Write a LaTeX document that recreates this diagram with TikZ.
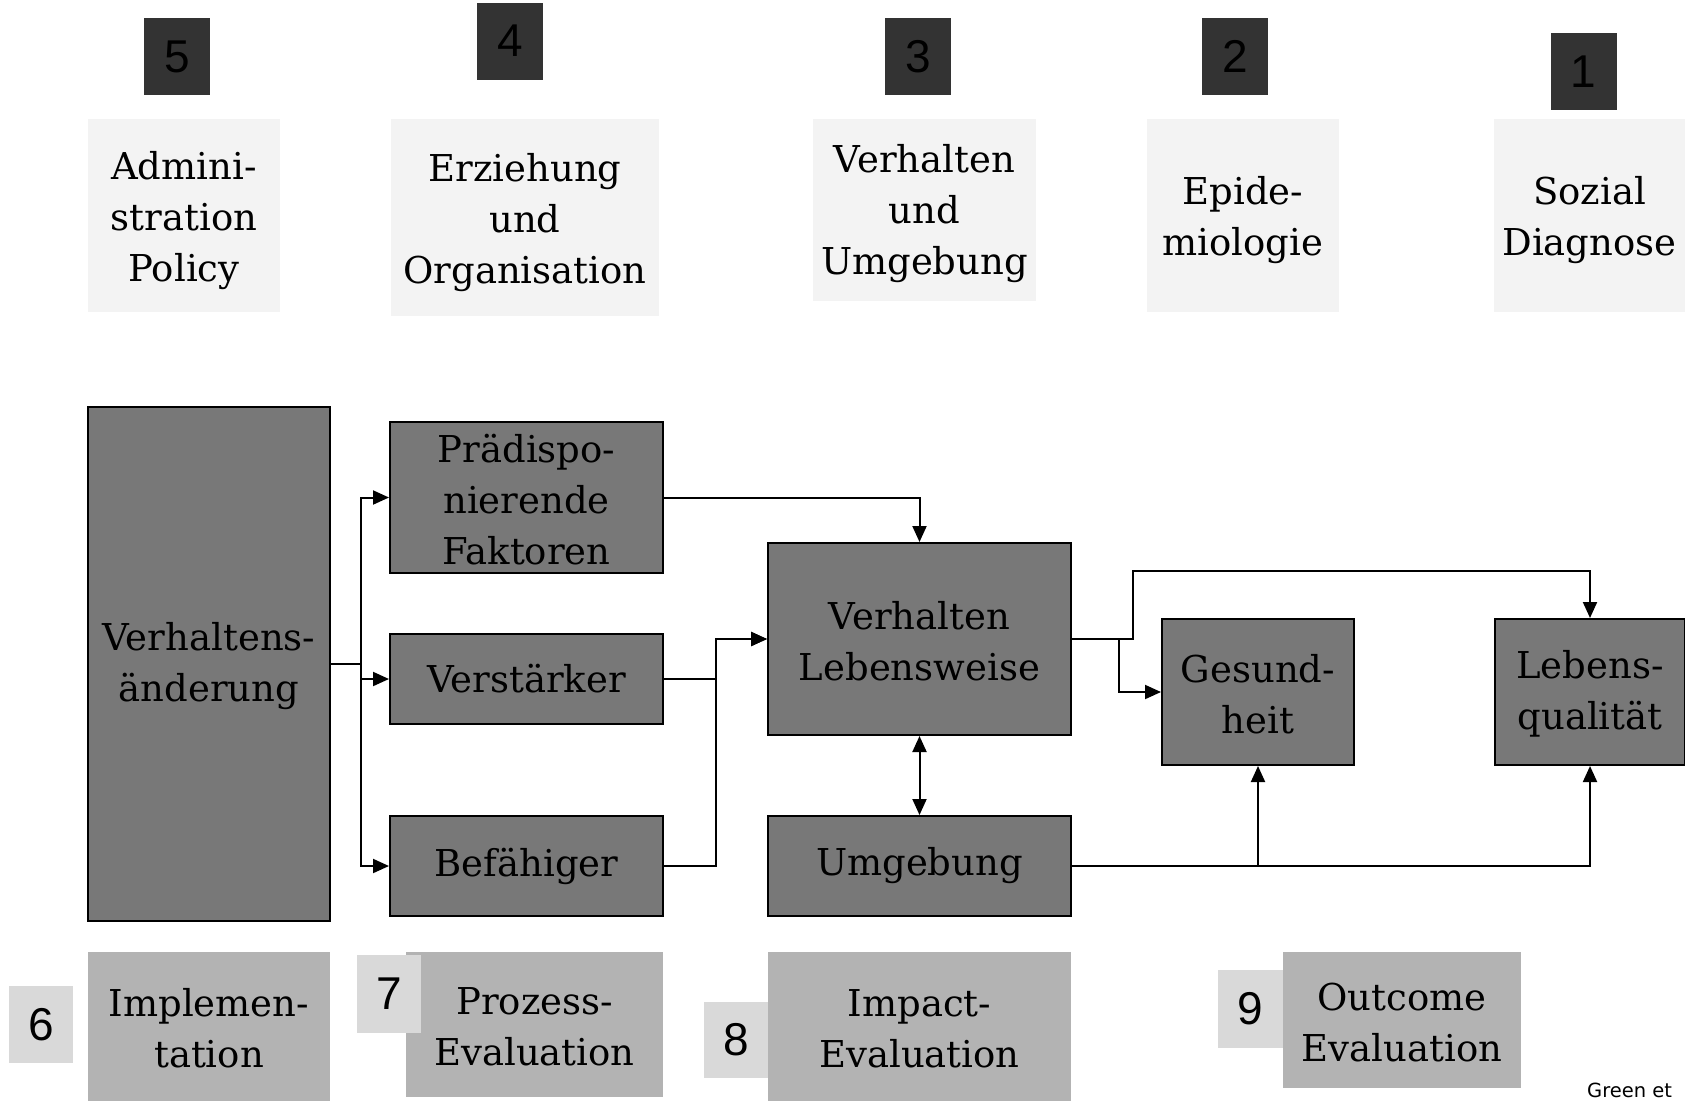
\documentclass[tikz,border=0pt]{standalone}
\usepackage{fontspec}
\setmainfont{DejaVu Serif}
\newfontfamily\numfont{Liberation Sans}
\newfontfamily\notefont{DejaVu Sans}
\usetikzlibrary{arrows.meta}
\newcommand{\upstrut}[1]{\rule{0pt}{#1pt}}
\definecolor{numdark}{HTML}{333333}
\definecolor{toplight}{HTML}{F3F3F3}
\definecolor{midgray}{HTML}{787878}
\definecolor{botgray}{HTML}{B3B3B3}
\definecolor{numlight}{HTML}{D9D9D9}
\tikzset{
  txt/.style={font=\fontsize{37}{51}\selectfont, align=center, inner sep=0pt, text=black},
  topbox/.style={txt, fill=toplight},
  midbox/.style={txt, fill=midgray, draw=black, line width=2pt},
  botbox/.style={txt, fill=botgray},
  numd/.style={fill=numdark, inner sep=0pt, font=\numfont\fontsize{46}{50}\selectfont, text=black, minimum width=66pt, minimum height=77pt},
  numl/.style={fill=numlight, inner sep=0pt, font=\numfont\fontsize{46}{50}\selectfont, text=black, minimum width=64pt, minimum height=77pt},
  conn/.style={line width=2pt, -{Triangle[length=16pt,width=14pt]}},
  dconn/.style={line width=2pt, {Triangle[length=16pt,width=14pt]}-{Triangle[length=16pt,width=14pt]}}
}
\begin{document}
\begin{tikzpicture}[x=1pt,y=-1pt]
\useasboundingbox (0,0) rectangle (1685,1101);
% top numbers
\node[numd] (n5) at (177,56.5) {5};
\node[numd] (n4) at (510,41) {4};
\node[numd] (n3) at (918,56.5) {3};
\node[numd] (n2) at (1235,56.5) {2};
\node[numd] (n1) at (1583.5,71.5) {1};
% top boxes
\node[topbox, minimum width=192pt, minimum height=193pt] (t5) at (184,215.5) {\upstrut{38}Admini-\\stration\\Policy};
\node[topbox, minimum width=268pt, minimum height=197pt] (t4) at (525,217.5) {\upstrut{38}Erziehung\\und\\Organisation};
\node[topbox, minimum width=223pt, minimum height=182pt] (t3) at (924.5,210) {\upstrut{36}Verhalten\\und\\Umgebung};
\node[topbox, minimum width=192pt, minimum height=193pt] (t2) at (1243,215.5) {\upstrut{38}Epide-\\miologie};
\node[topbox, minimum width=191pt, minimum height=193pt] (t1) at (1589.5,215.5) {\upstrut{38}Sozial\\Diagnose};
% middle boxes
\node[midbox, minimum width=242pt, minimum height=514pt] (va) at (209,664) {\upstrut{32}Verhaltens-\\änderung};
\node[midbox, minimum width=273pt, minimum height=151pt] (pf) at (526.5,497.5) {\upstrut{32}Prädispo-\\nierende\\Faktoren};
\node[midbox, minimum width=273pt, minimum height=90pt] (vs) at (526.5,679) {Verstärker};
\node[midbox, minimum width=273pt, minimum height=100pt] (bf) at (526.5,866) {Befähiger};
\node[midbox, minimum width=303pt, minimum height=192pt] (vl) at (919.5,639) {\upstrut{32}Verhalten\\Lebensweise};
\node[midbox, minimum width=303pt, minimum height=100pt] (ug) at (919.5,866) {Umgebung};
\node[midbox, minimum width=192pt, minimum height=146pt] (gh) at (1258,692) {\upstrut{32}Gesund-\\heit};
\node[midbox, minimum width=190pt, minimum height=146pt] (lq) at (1590,692) {\upstrut{32}Lebens-\\qualität};
% connectors
\draw[conn] (va.east) -- ++(30,0) |- (pf.west);
\draw[conn] (va.east) -- ++(30,0) |- (vs.west);
\draw[conn] (va.east) -- ++(30,0) |- (bf.west);
\draw[conn] (pf.east) -| (vl.north);
\draw[conn] (vs.east) -- ++(52,0) |- (vl.west);
\draw[conn] (bf.east) -- ++(52,0) |- (vl.west);
\draw[dconn] (vl.south) -- (ug.north);
\draw[conn] (vl.east) -- ++(47,0) |- (gh.west);
\draw[conn] (vl.east) -- ++(61,0) -- ++(0,-68) -| (lq.north);
\draw[conn] (ug.east) -| (gh.south);
\draw[conn] (ug.east) -| (lq.south);
% bottom boxes
\node[botbox, minimum width=242pt, minimum height=149pt] (b6) at (209,1026.5) {\upstrut{32}Implemen-\\tation};
\node[numl] (n6) at (41,1024.5) {6};
\node[botbox, minimum width=257pt, minimum height=145pt] (b7) at (534.5,1024.5) {\upstrut{32}Prozess-\\Evaluation};
\node[numl, minimum height=78pt] (n7) at (389,994) {7};
\node[botbox, minimum width=303pt, minimum height=149pt] (b8) at (919.5,1026.5) {\upstrut{32}Impact-\\Evaluation};
\node[numl, minimum height=76pt] (n8) at (736,1040) {8};
\node[botbox, minimum width=238pt, minimum height=136pt] (b9) at (1402,1020) {\upstrut{32}Outcome\\Evaluation};
\node[numl, minimum width=65pt, minimum height=78pt] (n9) at (1250.5,1009) {9};
% note
\node[anchor=base west, inner sep=0pt, font=\notefont\fontsize{19.5}{22}\selectfont] (note) at (1587,1097) {Green et};
\end{tikzpicture}
\end{document}
